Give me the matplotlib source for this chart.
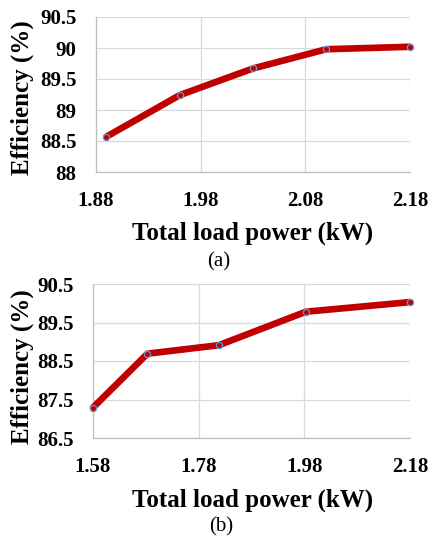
import matplotlib
matplotlib.use('Agg')
import matplotlib.pyplot as plt

# panel (a)
power_a = [1.89, 1.96, 2.03, 2.10, 2.18]
eff_a = [88.57, 89.24, 89.67, 89.98, 90.02]
xticks_a = [1.88, 1.98, 2.08, 2.18]
yticks_a = [88, 88.5, 89, 89.5, 90, 90.5]

# panel (b)
power_b = [1.58, 1.683, 1.818, 1.983, 2.18]
eff_b = [87.29, 88.69, 88.91, 89.78, 90.03]
xticks_b = [1.58, 1.78, 1.98, 2.18]
yticks_b = [86.5, 87.5, 88.5, 89.5, 90.5]

plt.rcParams['font.family'] = ['Liberation Serif', 'DejaVu Serif']

W, H = 432, 536
fig = plt.figure(figsize=(W / 100, H / 100), dpi=100)


def px_axes(left, top, right, bottom):
    return fig.add_axes([left / W, 1 - bottom / H, (right - left) / W, (bottom - top) / H])


def draw_panel(ax, x, y, xticks, yticks):
    ax.plot(x, y, color='#C00000', lw=4.8, solid_capstyle='round', zorder=3,
            marker='o', markersize=4.5, markerfacecolor='#C00000',
            markeredgecolor='#5B9BD5', markeredgewidth=0.9, clip_on=False)
    ax.set_xlim(xticks[0], xticks[-1])
    ax.set_ylim(yticks[0], yticks[-1])
    ax.set_xticks(xticks)
    ax.set_yticks(yticks)
    ax.set_xticklabels([f'{t:.2f}' for t in xticks])
    ax.set_yticklabels([f'{t:g}' for t in yticks])
    ax.grid(True, color='#D9D9D9', lw=0.9)
    ax.set_axisbelow(True)
    for s in ['top', 'right']:
        ax.spines[s].set_visible(False)
    for s in ['left', 'bottom']:
        ax.spines[s].set_color('#BFBFBF')
        ax.spines[s].set_linewidth(0.9)
    ax.tick_params(axis='x', length=0, labelsize=15, pad=14)
    ax.tick_params(axis='y', length=0, labelsize=15, pad=14)
    for lab in ax.get_xticklabels() + ax.get_yticklabels():
        lab.set_fontweight('bold')


ax1 = px_axes(96, 17, 410, 172)
draw_panel(ax1, power_a, eff_a, xticks_a, yticks_a)
ax2 = px_axes(93, 284, 410, 438)
draw_panel(ax2, power_b, eff_b, xticks_b, yticks_b)

lab_kw = dict(fontsize=18, fontweight='bold', ha='center')
fig.text(253 / W, 1 - 240 / H, 'Total load power (kW)', va='baseline', **lab_kw)
fig.text(253 / W, 1 - 507 / H, 'Total load power (kW)', va='baseline', **lab_kw)
fig.text(22 / W, 1 - 98 / H, 'Efficiency (%)', rotation=90, va='center', **lab_kw)
fig.text(22 / W, 1 - 367 / H, 'Efficiency (%)', rotation=90, va='center', **lab_kw)
fig.text(219 / W, 1 - 262 / H, '(a)', fontsize=15, ha='center', va='center')
fig.text(221 / W, 1 - 527 / H, '(b)', fontsize=15, ha='center', va='center')

fig.savefig('out.png', dpi=100, facecolor='white')
